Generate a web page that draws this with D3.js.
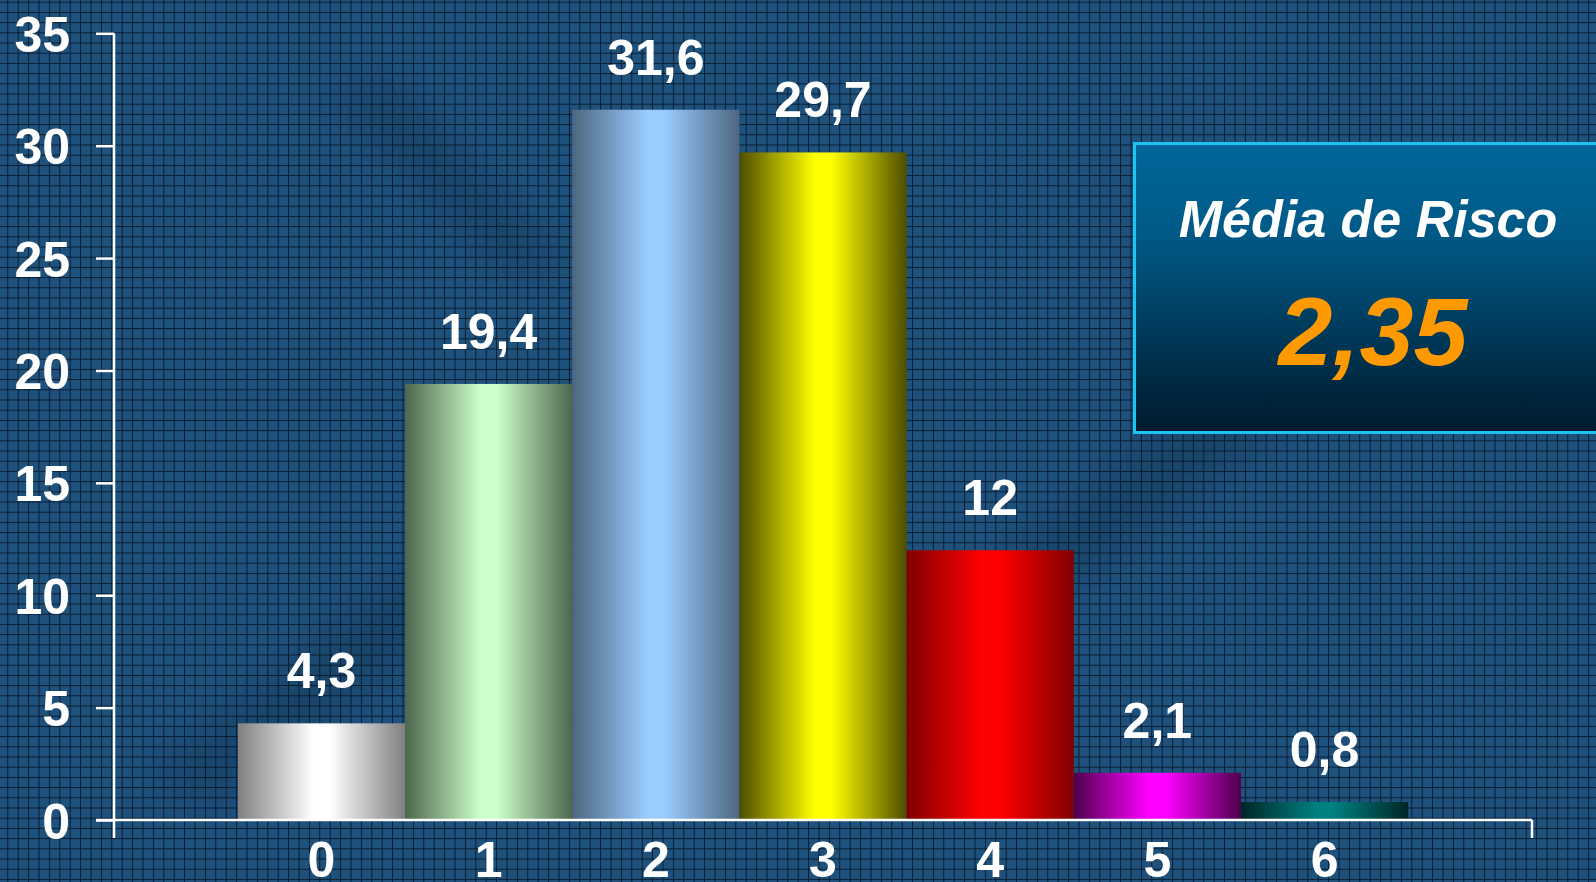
<!DOCTYPE html>
<html>
<head>
<meta charset="utf-8">
<script src="https://cdn.jsdelivr.net/npm/d3@7"></script>
<style>
  html, body { margin: 0; padding: 0; background: #1a4b72; overflow: hidden; }
  svg { display: block; }
  text { font-family: "Liberation Sans", Arial, sans-serif; font-weight: bold; }
</style>
</head>
<body>
<svg id="chart" width="1596" height="882"></svg>
<script>
// ---- Data ----
const categories = ["0", "1", "2", "3", "4", "5", "6"];
const values = [4.3, 19.4, 31.6, 29.7, 12, 2.1, 0.8];
const valueLabels = ["4,3", "19,4", "31,6", "29,7", "12", "2,1", "0,8"];
const yTicks = [0, 5, 10, 15, 20, 25, 30, 35];
const barLight = ["#ffffff", "#ccffcc", "#99ccff", "#ffff00", "#ff0000", "#ff00ff", "#008080"];
const barDark  = ["#808080", "#4d664d", "#4d6680", "#4d4d00", "#800000", "#4d004d", "#002626"];
const boxTitle = "Média de Risco";
const boxValue = "2,35";

const W = 1596, H = 882;
const svg = d3.select("#chart");
const defs = svg.append("defs");

// ---- Background texture ----
const pat = defs.append("pattern").attr("id", "grid")
  .attr("patternUnits", "userSpaceOnUse")
  .attr("width", 10.4).attr("height", 10.2)
  .attr("x", 7.3).attr("y", 1.7);
pat.append("rect").attr("width", 10.4).attr("height", 10.2).attr("fill", "#1c4e77");
const chk = defs.append("pattern").attr("id", "chk")
  .attr("patternUnits", "userSpaceOnUse").attr("width", 2).attr("height", 2);
chk.append("rect").attr("width", 1).attr("height", 1).attr("fill", "#23598a");
chk.append("rect").attr("x", 1).attr("y", 1).attr("width", 1).attr("height", 1).attr("fill", "#23598a");
pat.append("rect").attr("width", 10.4).attr("height", 10.2).attr("fill", "url(#chk)").attr("opacity", 0.55);
pat.append("rect").attr("x", 0).attr("y", 0).attr("width", 10.4).attr("height", 1).attr("fill", "#0a1d31");
pat.append("rect").attr("x", 0).attr("y", 0).attr("width", 1).attr("height", 10.2).attr("fill", "#0a1d31");

svg.append("rect").attr("width", W).attr("height", H).attr("fill", "#1a4b72");
svg.append("rect").attr("width", W).attr("height", H).attr("fill", "url(#grid)");

// faint diagonal shading in background
const shade = defs.append("filter").attr("id", "blur").attr("x", "-50%").attr("y", "-50%").attr("width", "200%").attr("height", "200%");
shade.append("feGaussianBlur").attr("stdDeviation", 18);
const shadeG = svg.append("g").attr("filter", "url(#blur)").attr("opacity", 0.18);
shadeG.append("path").attr("d", "M150,780 L600,420 L660,450 L220,800 Z").attr("fill", "#000c1a");
shadeG.append("path").attr("d", "M1000,560 L1400,260 L1450,290 L1060,590 Z").attr("fill", "#000c1a");
shadeG.append("path").attr("d", "M380,80 L560,260 L520,280 L340,100 Z").attr("fill", "#000c1a");

// ---- Scales ----
const y = d3.scaleLinear().domain([0, 35]).range([820, 33.3]);
const x = d3.scaleBand().domain(categories).range([114, 1532]).paddingInner(0).paddingOuter(0.741);

// ---- Bar gradients ----
categories.forEach((c, i) => {
  const g = defs.append("linearGradient").attr("id", "bg" + i)
    .attr("x1", "0%").attr("x2", "100%").attr("y1", "0%").attr("y2", "0%");
  g.append("stop").attr("offset", "0%").attr("stop-color", barDark[i]);
  g.append("stop").attr("offset", "45%").attr("stop-color", barLight[i]);
  g.append("stop").attr("offset", "55%").attr("stop-color", barLight[i]);
  g.append("stop").attr("offset", "100%").attr("stop-color", barDark[i]);
});

// ---- Bars ----
svg.append("g").selectAll("rect").data(values).join("rect")
  .attr("x", (d, i) => x(categories[i]))
  .attr("y", d => y(d))
  .attr("width", x.bandwidth())
  .attr("height", d => y(0) - y(d))
  .attr("fill", (d, i) => `url(#bg${i})`);

// ---- Value labels ----
svg.append("g").selectAll("text").data(values).join("text")
  .attr("x", (d, i) => x(categories[i]) + x.bandwidth() / 2)
  .attr("y", d => y(d) - 35)
  .attr("text-anchor", "middle")
  .attr("fill", "#ffffff")
  .attr("font-size", 50)
  .text((d, i) => valueLabels[i]);

// ---- Y axis ----
const yAxis = d3.axisLeft(y).tickValues(yTicks).tickSize(18).tickPadding(26).tickFormat(d3.format("d"));
const yg = svg.append("g").attr("transform", "translate(114,0)").call(yAxis);
yg.select(".domain").remove();
yg.selectAll(".tick line").attr("stroke", "#ffffff").attr("stroke-width", 2.5);
yg.selectAll(".tick text").attr("fill", "#ffffff").attr("font-size", 50)
  .attr("font-family", "Liberation Sans, Arial, sans-serif").attr("font-weight", "bold")
  .attr("dy", "0.36em");
svg.append("line").attr("x1", 114).attr("x2", 114).attr("y1", y(35)).attr("y2", 838)
  .attr("stroke", "#ffffff").attr("stroke-width", 2.5);

// ---- X axis ----
svg.append("line").attr("x1", 96).attr("x2", 1532).attr("y1", y(0)).attr("y2", y(0))
  .attr("stroke", "#ffffff").attr("stroke-width", 2.5);
svg.append("line").attr("x1", 1532).attr("x2", 1532).attr("y1", y(0)).attr("y2", 838)
  .attr("stroke", "#ffffff").attr("stroke-width", 2.5);
svg.append("g").selectAll("text").data(categories).join("text")
  .attr("x", d => x(d) + x.bandwidth() / 2)
  .attr("y", y(0) + 57)
  .attr("text-anchor", "middle")
  .attr("fill", "#ffffff")
  .attr("font-size", 50)
  .text(d => d);

// ---- Info box ----
const boxG = defs.append("linearGradient").attr("id", "boxg")
  .attr("x1", "0%").attr("x2", "0%").attr("y1", "0%").attr("y2", "100%");
boxG.append("stop").attr("offset", "0%").attr("stop-color", "#006699");
boxG.append("stop").attr("offset", "30%").attr("stop-color", "#005a88");
boxG.append("stop").attr("offset", "100%").attr("stop-color", "#001a2c");
svg.append("rect").attr("x", 1134.5).attr("y", 143.5).attr("width", 480).attr("height", 289)
  .attr("fill", "url(#boxg)").attr("stroke", "#1ec3f2").attr("stroke-width", 3);
svg.append("text").attr("x", 1368).attr("y", 237).attr("text-anchor", "middle")
  .attr("fill", "#ffffff").attr("font-size", 52).attr("font-style", "italic")
  .text(boxTitle);
svg.append("text").attr("x", 1373).attr("y", 365).attr("text-anchor", "middle")
  .attr("fill", "#ff9900").attr("font-size", 97).attr("font-style", "italic")
  .text(boxValue);
</script>
</body>
</html>
